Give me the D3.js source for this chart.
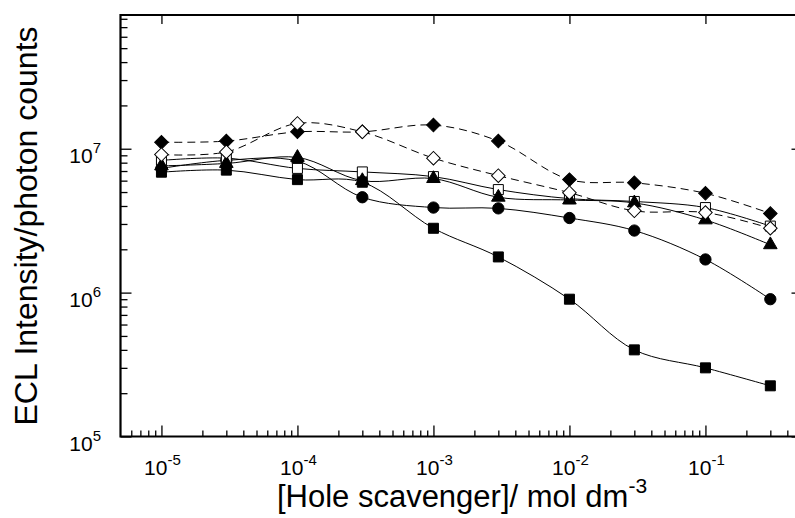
<!DOCTYPE html>
<html><head><meta charset="utf-8">
<script src="https://cdn.jsdelivr.net/npm/d3@7"></script>
<style>body{margin:0;background:#fff}svg{display:block}</style>
</head><body><svg id="c" width="795" height="518"></svg>
<script>
// ---- data ----
const concentrations = [1e-5, 3e-5, 1e-4, 3e-4, 1e-3, 3e-3, 1e-2, 3e-2, 1e-1, 3e-1];
const openSquares    = [8.3e6, 8.6e6, 7.3e6, 6.9e6, 6.4e6, 5.2e6, 4.5e6, 4.3e6, 3.9e6, 2.9e6];
const filledTriangles= [7.6e6, 7.9e6, 8.7e6, 6.0e6, 6.2e6, 4.6e6, 4.4e6, 4.2e6, 3.2e6, 2.15e6];
const filledCircles  = [7.3e6, 8.3e6, 8.2e6, 4.6e6, 3.9e6, 3.85e6, 3.3e6, 2.7e6, 1.7e6, 9.0e5];
const filledSquares  = [6.87e6, 7.1e6, 6.1e6, 5.85e6, 2.8e6, 1.77e6, 9.0e5, 4.0e5, 3.0e5, 2.25e5];
const filledDiamonds = [1.11e7, 1.13e7, 1.31e7, 1.31e7, 1.46e7, 1.13e7, 6.1e6, 5.8e6, 4.9e6, 3.55e6];
const openDiamonds   = [9.1e6, 9.5e6, 1.5e7, 1.31e7, 8.6e6, 6.5e6, 4.95e6, 3.7e6, 3.6e6, 2.8e6];
const xTickExps = [-5, -4, -3, -2, -1];
const yTickExps = [5, 6, 7];
const xLabel = "[Hole scavenger]/ mol dm";
const xLabelSup = "-3";
const yLabel = "ECL Intensity/photon counts";

// drawing order (later ones on top)
const series = [
  {values: filledSquares,   shape: "square",   fill: "#000", dash: null},
  {values: filledCircles,   shape: "circle",   fill: "#000", dash: null},
  {values: openSquares,     shape: "square",   fill: "#fff", dash: null},
  {values: filledTriangles, shape: "triangle", fill: "#000", dash: null},
  {values: filledDiamonds,  shape: "diamond",  fill: "#000", dash: "8,5"},
  {values: openDiamonds,    shape: "diamond",  fill: "#fff", dash: "8,5"}
];

const svg = d3.select("#c");
const L = 120.5, R = 800.5, T = 15, B = 436.5;
const x = d3.scaleLog().domain([5e-6, 0.5]).range([L, R]);
const y = d3.scaleLog().domain([1e5, 8.5e7]).range([B, T]);
const font = "'Liberation Sans', Arial, sans-serif";

// minor tick values
const xMinor = [];
for (let e = -6; e <= -1; e++) for (let m = 2; m <= 9; m++) {
  const v = m * Math.pow(10, e);
  if (v > 5e-6 && v < 0.5) xMinor.push(v);
}
const yMinor = [];
for (let e = 5; e <= 7; e++) for (let m = 2; m <= 9; m++) {
  const v = m * Math.pow(10, e);
  if (v < 8.5e7) yMinor.push(v);
}
const xMajor = xTickExps.map(e => Math.pow(10, e));
const yMajor = yTickExps.map(e => Math.pow(10, e));

function styleAxis(g) {
  g.select(".domain").remove();
  g.selectAll(".tick line").attr("stroke", "#000").attr("stroke-width", 1.3);
  g.selectAll(".tick text").remove();
}
// bottom
svg.append("g").attr("transform", `translate(0,${B})`)
  .call(d3.axisBottom(x).tickValues(xMajor).tickSizeInner(-11).tickSizeOuter(0)).call(styleAxis);
svg.append("g").attr("transform", `translate(0,${B})`)
  .call(d3.axisBottom(x).tickValues(xMinor).tickSizeInner(-6).tickSizeOuter(0)).call(styleAxis);
// top
svg.append("g").attr("transform", `translate(0,${T})`)
  .call(d3.axisTop(x).tickValues(xMajor).tickSizeInner(-9).tickSizeOuter(0)).call(styleAxis);
// left
svg.append("g").attr("transform", `translate(${L},0)`)
  .call(d3.axisLeft(y).tickValues(yMajor).tickSizeInner(-11).tickSizeOuter(0)).call(styleAxis);
svg.append("g").attr("transform", `translate(${L},0)`)
  .call(d3.axisLeft(y).tickValues(yMinor).tickSizeInner(-7).tickSizeOuter(0)).call(styleAxis);
// right
svg.append("g").attr("transform", `translate(${R},0)`)
  .call(d3.axisRight(y).tickValues(yMajor).tickSizeInner(-9).tickSizeOuter(0)).call(styleAxis);

// frame
svg.append("path")
  .attr("d", `M${L},${T}H${R}V${B}H${L}Z`)
  .attr("fill", "none").attr("stroke", "#000").attr("stroke-width", 2.2);

// tick labels
xMajor.forEach((v, i) => {
  const t = svg.append("text").attr("x", x(v) + 1).attr("y", 475)
    .attr("text-anchor", "middle").attr("font-family", font).attr("font-size", 21);
  t.append("tspan").text("10");
  t.append("tspan").attr("dy", -10).attr("font-size", 15).text(String(xTickExps[i]));
});
yMajor.forEach((v, i) => {
  const t = svg.append("text").attr("x", 101).attr("y", y(v) + 14)
    .attr("text-anchor", "end").attr("font-family", font).attr("font-size", 21);
  t.append("tspan").text("10");
  t.append("tspan").attr("dy", -10).attr("font-size", 15).text(String(yTickExps[i]));
});

// axis titles
const xt = svg.append("text").attr("x", 462).attr("y", 507)
  .attr("text-anchor", "middle").attr("font-family", font).attr("font-size", 31);
xt.append("tspan").text(xLabel);
xt.append("tspan").attr("dy", -14).attr("font-size", 21).text(xLabelSup);

svg.append("text").attr("transform", "translate(37,226) rotate(-90)")
  .attr("text-anchor", "middle").attr("font-family", font).attr("font-size", 32)
  .text(yLabel);

// lines
const line = d3.line().x(d => x(d[0])).y(d => y(d[1])).curve(d3.curveCatmullRom.alpha(0.5));
const plot = svg.append("g");
series.forEach(s => {
  plot.append("path").datum(concentrations.map((c, i) => [c, s.values[i]]))
    .attr("d", line).attr("fill", "none").attr("stroke", "#000").attr("stroke-width", 1)
    .attr("stroke-dasharray", s.dash);
});
// markers
const shapes = {
  square: d3.symbol().type(d3.symbolSquare).size(100)(),
  circle: d3.symbol().type(d3.symbolCircle).size(100)(),
  triangle: d3.symbol().type(d3.symbolTriangle).size(80)(),
  diamond: d3.symbol().type(d3.symbolSquare).size(92)()
};
series.forEach(s => {
  plot.append("g").selectAll("path")
    .data(concentrations.map((c, i) => [c, s.values[i]]))
    .join("path")
    .attr("d", shapes[s.shape])
    .attr("transform", d => `translate(${x(d[0])},${y(d[1])})` + (s.shape === "diamond" ? " rotate(45)" : ""))
    .attr("fill", s.fill).attr("stroke", "#000").attr("stroke-width", 1);
});
</script></body></html>
